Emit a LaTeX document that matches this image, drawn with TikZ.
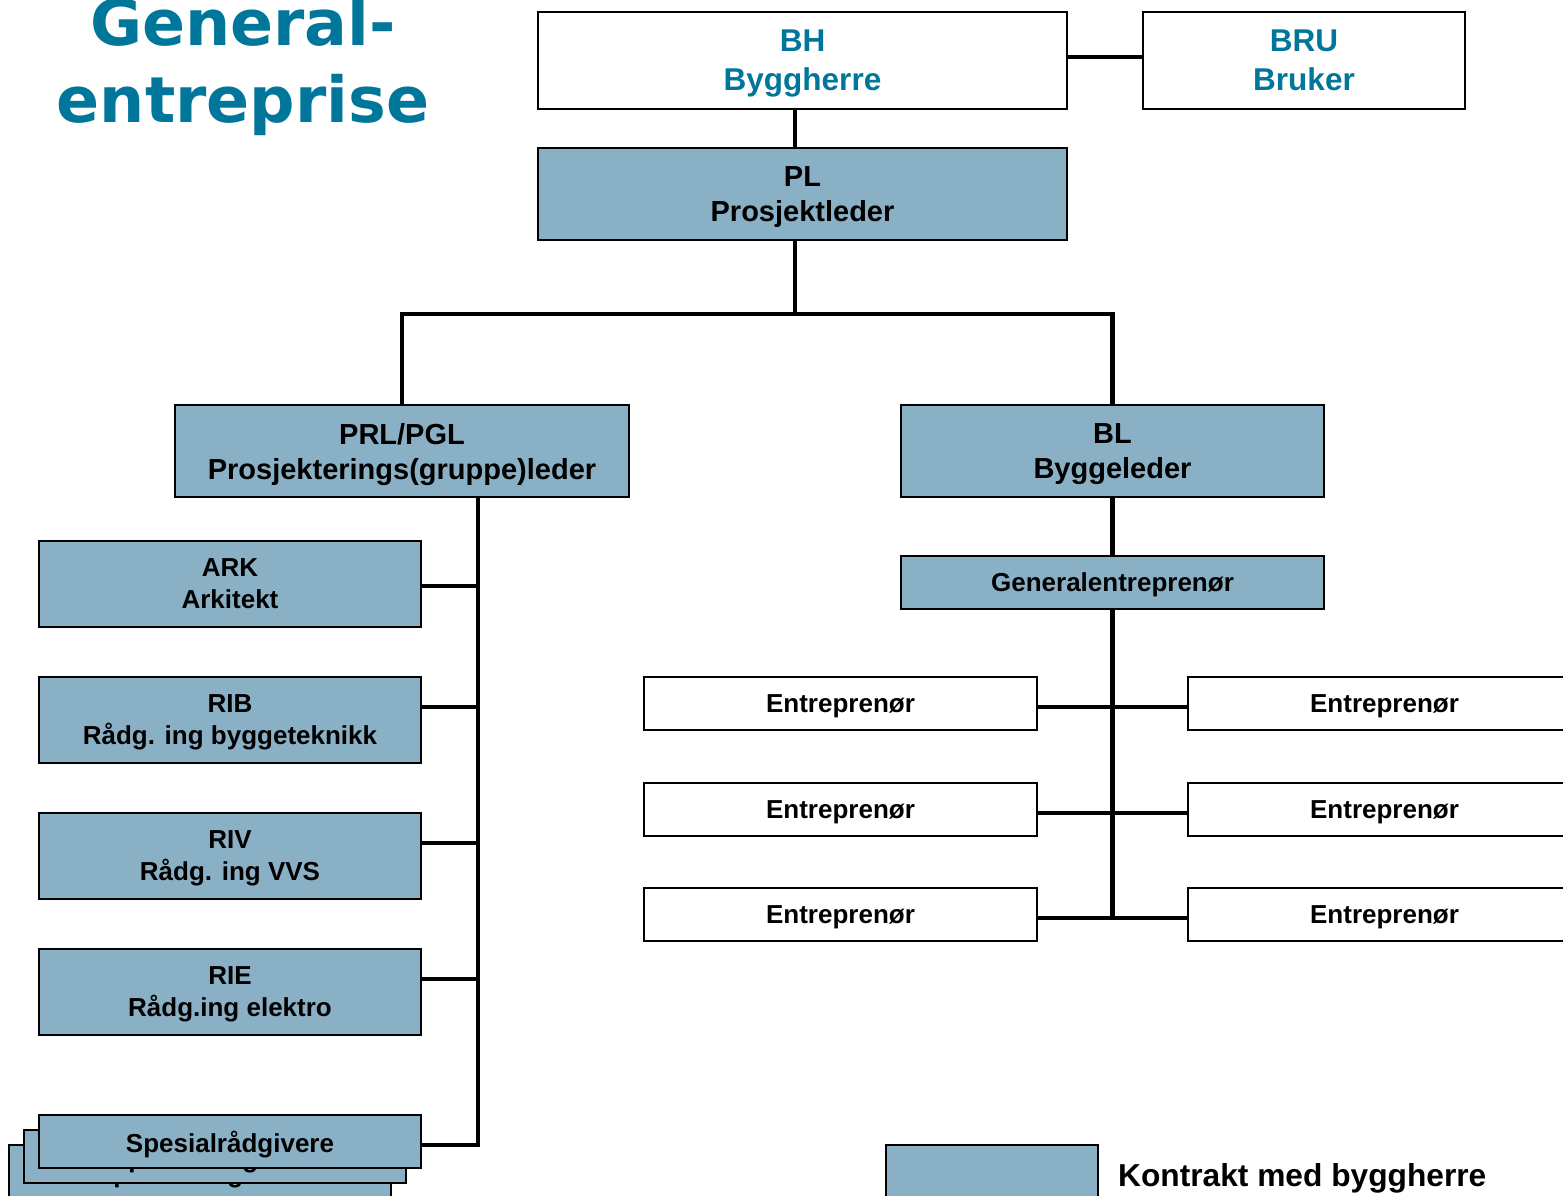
\documentclass[tikz,border=0pt]{standalone}
\usepackage{fontspec}
\setmainfont{Liberation Sans}
\newfontfamily\titlefont{DejaVu Sans}
\definecolor{boxblue}{HTML}{8AB0C6}
\definecolor{headteal}{HTML}{00779A}
\begin{document}
\begin{tikzpicture}[x=1pt,y=-1pt,
  box/.style={draw=black, line width=2pt, inner sep=0pt, align=center, rectangle, text depth=0pt},
  blue/.style={box, fill=boxblue},
  white/.style={box, fill=white},
  big/.style={font=\fontsize{29}{35}\selectfont\bfseries},
  small/.style={font=\fontsize{26}{32}\selectfont\bfseries},
  head/.style={font=\fontsize{31.5}{39}\selectfont\bfseries, text=headteal},
  titletext/.style={anchor=base, text=headteal, font=\titlefont\fontsize{63.5}{77}\selectfont\bfseries},
  link/.style={line width=4.5pt, line join=miter}
]
\useasboundingbox (0,0) rectangle (1563,1195);

% title
\node[titletext] (t1) at (243,45) {General-};
\node[titletext] (t2) at (243,122) {entreprise};

% client level
\node[white, head, minimum width=529pt, minimum height=97pt] (bh) at (802.5,60.5) {BH\\Byggherre};
\node[white, head, minimum width=322pt, minimum height=97pt] (bru) at (1304,60.5) {BRU\\Bruker};
\node[blue, big, minimum width=529pt, minimum height=92pt] (pl) at (802.5,194) {PL\\Prosjektleder};

% design and construction leaders
\node[blue, big, minimum width=454pt, minimum height=92pt] (prl) at (402,451) {PRL/PGL\\Prosjekterings(gruppe)leder};
\node[blue, big, minimum width=423pt, minimum height=92pt] (bl) at (1112.5,451) {BL\\Byggeleder};

% consultants
\node[blue, small, minimum width=382pt, minimum height=86pt] (ark) at (230,584) {ARK\\Arkitekt};
\node[blue, small, minimum width=382pt, minimum height=86pt] (rib) at (230,720) {RIB\\Rådg. ing byggeteknikk};
\node[blue, small, minimum width=382pt, minimum height=86pt] (riv) at (230,856) {RIV\\Rådg. ing VVS};
\node[blue, small, minimum width=382pt, minimum height=86pt] (rie) at (230,992) {RIE\\Rådg.ing elektro};
\node[blue, small, minimum width=382pt, minimum height=53pt] (spes3) at (200,1171.5) {Spesialrådgivere};
\node[blue, small, minimum width=382pt, minimum height=53pt] (spes2) at (215,1156.5) {Spesialrådgivere};
\node[blue, small, minimum width=382pt, minimum height=53pt] (spes) at (230,1141.5) {Spesialrådgivere};

% contractors
\node[blue, small, minimum width=423pt, minimum height=53pt] (ge) at (1112.5,582.5) {Generalentreprenør};
\node[white, small, minimum width=393pt, minimum height=53pt] (el1) at (840.5,703.5) {Entreprenør};
\node[white, small, minimum width=393pt, minimum height=53pt] (el2) at (840.5,809.5) {Entreprenør};
\node[white, small, minimum width=393pt, minimum height=53pt] (el3) at (840.5,914.5) {Entreprenør};
\node[white, small, minimum width=393pt, minimum height=53pt] (er1) at (1384.5,703.5) {Entreprenør};
\node[white, small, minimum width=393pt, minimum height=53pt] (er2) at (1384.5,809.5) {Entreprenør};
\node[white, small, minimum width=393pt, minimum height=53pt] (er3) at (1384.5,914.5) {Entreprenør};

% legend
\node[blue, minimum width=212pt, minimum height=70pt] (leg) at (992,1180) {};
\node[anchor=base west, inner sep=0pt, font=\fontsize{31.7}{38}\selectfont\bfseries] (legtxt) at (1118,1186) {Kontrakt med byggherre};

% connectors
\coordinate (bus) at (795,314);
\coordinate (sp) at (478,497);
\draw[link] ([yshift=3.5pt]bh.east) -- ([yshift=3.5pt]bru.west);
\draw[link] ([xshift=-7.5pt]bh.south) -- ([xshift=-7.5pt]pl.north);
\draw[link] ([xshift=-7.5pt]pl.south) -- (bus);
\draw[link] (prl.north) |- (bus -| bl.north) -- (bl.north);

\draw[link] (sp) |- ([yshift=-3.5pt]spes.east);
\foreach \n/\s in {ark/-2,rib/13,riv/13,rie/13}
  \draw[link] ([yshift=\s pt]\n.east) -- ([yshift=\s pt]\n.east -| sp);

\draw[link] (bl.south) -- (ge.north);
\draw[link] (ge.south) -- ([yshift=-3.5pt]el3.east -| ge.south);
\foreach \i in {1,2,3}
  \draw[link] ([yshift=-3.5pt]el\i.east) -- ([yshift=-3.5pt]er\i.west);
\end{tikzpicture}
\end{document}
